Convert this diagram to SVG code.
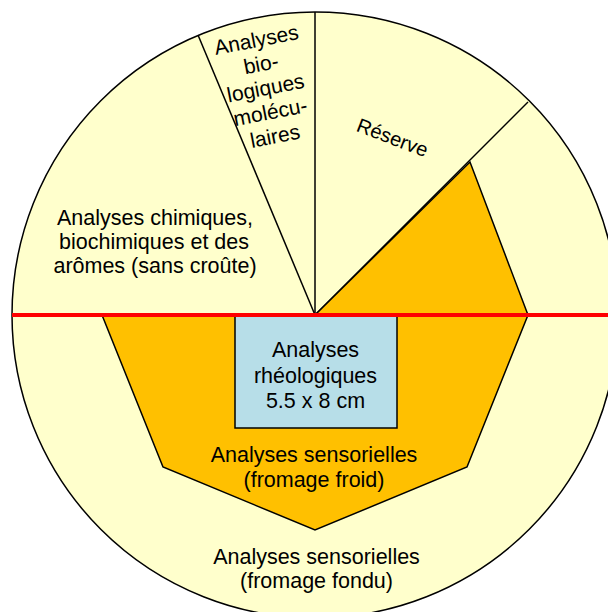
<svg xmlns="http://www.w3.org/2000/svg" width="608" height="612" viewBox="0 0 608 612">
<style>
text{font-family:"Liberation Sans",Arial,sans-serif;font-size:21.5px;fill:#000;text-anchor:middle}
.ln{stroke:#000;stroke-width:1.5;fill:none}
</style>
<rect width="608" height="612" fill="#fff"/>
<g id="disc">
<circle cx="315" cy="315" r="303" fill="#FFFFCC" stroke="#000" stroke-width="1.5"/>
</g>
<g id="connectors">
<line class="ln" x1="315" y1="315" x2="198" y2="35"/>
<line class="ln" x1="315" y1="315" x2="315" y2="12"/>
<line class="ln" x1="315" y1="315" x2="528" y2="102"/>
</g>
<g id="sensoriel-froid">
<polygon points="315,315 470,162 528,315 467,467 315,530 163,467 102,315" fill="#FFC000" stroke="#000" stroke-width="1.5" stroke-linejoin="miter"/>
</g>
<g id="rheologie">
<rect x="235" y="315" width="162" height="113" fill="#B7DEE8" stroke="#000" stroke-width="1.5"/>
<text x="315.5" y="356.7">Analyses</text>
<text x="315.5" y="382.5">rhéologiques</text>
<text x="315.5" y="408.3">5.5 x 8 cm</text>
</g>
<g id="coupe">
<line x1="12" y1="315" x2="608" y2="315" stroke="#FF0000" stroke-width="4"/>
</g>
<g id="chimie">
<text x="155" y="225">Analyses chimiques,</text>
<text x="154" y="249">biochimiques et des</text>
<text x="155" y="273">arômes (sans croûte)</text>
</g>
<g id="biologie" transform="translate(267,95) rotate(-11)">
<text x="0" y="-49" style="font-size:21px">Analyses</text>
<text x="0" y="-24.5" style="font-size:21px">bio-</text>
<text x="0" y="0" style="font-size:21px">logiques</text>
<text x="0" y="24.5" style="font-size:21px">molécu-</text>
<text x="0" y="49" style="font-size:21px">laires</text>
</g>
<g id="reserve" transform="translate(390,144) rotate(21)">
<text x="0" y="0" style="font-size:20px">Réserve</text>
</g>
<g id="froid-label">
<text x="314" y="461.7">Analyses sensorielles</text>
<text x="314" y="486.7">(fromage froid)</text>
</g>
<g id="fondu-label">
<text x="316.5" y="564.3">Analyses sensorielles</text>
<text x="316.5" y="588.3">(fromage fondu)</text>
</g>
</svg>
